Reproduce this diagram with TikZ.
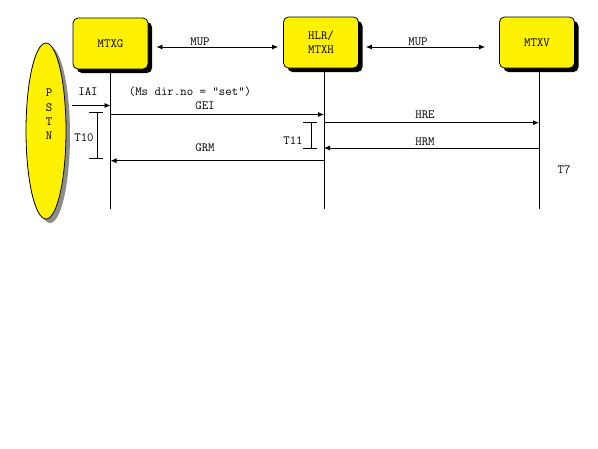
\documentclass[tikz,border=0pt]{standalone}
\usepackage{fontspec}
\usetikzlibrary{positioning,shadows,shapes.geometric,arrows.meta}

\begin{document}
\begin{tikzpicture}[
  x=1pt, y=-1pt,
  >={Latex[length=6pt,width=5pt]},
  line width=0.8pt,
  every node/.style={font=\ttfamily\fontsize{12.5}{14.3}\selectfont},
  ent/.style={
      draw,
      rounded corners=5pt,
      fill=yellow,
      minimum width=75pt,
      minimum height=51pt,
      align=center,
      drop shadow={shadow xshift=4pt, shadow yshift=-4pt, fill=black, opacity=1}
  },
  net/.style={
      draw,
      ellipse,
      fill=yellow,
      minimum width=40pt,
      minimum height=176pt,
      drop shadow={shadow xshift=4pt, shadow yshift=-4pt, fill=black!45, opacity=1}
  },
  msg/.style={->},
  tmr/.style={-}
]

\useasboundingbox (0,0) rectangle (598,448);

\node[ent] (mtxg) at (110.5,43.5) {MTXG};
\node[ent] (hlr) at (321,42.5) {HLR/\\MTXH};
\node[ent] (mtxv) at (537,42.5) {MTXV};

\node[net] (pstn) at (46,131) {};
\node[align=center] at (49,114.5) {P\\S\\T\\N};

% lifelines
\coordinate (gl) at (110.5,209);
\coordinate (hl) at (324,209);
\coordinate (vl) at (539,209);
\draw (mtxg.south -| gl) -- (gl);
\draw (hlr.south -| hl) -- (hl);
\draw (mtxv.south -| vl) -- (vl);

% MUP links
\coordinate (m1) at ([xshift=8pt,yshift=-3.5pt]mtxg.east);
\coordinate (m2) at ([xshift=-5pt,yshift=-4.5pt]hlr.west);
\coordinate (m3) at ([xshift=7pt,yshift=-4.5pt]hlr.east);
\coordinate (m4) at ([xshift=-14pt,yshift=-4.5pt]mtxv.west);
\draw[<->] (m1) -- (m2);
\node at (200,42) {MUP};
\draw[<->] (m3) -- (m4);
\node at (418,42) {MUP};

% message levels
\coordinate (yIAI) at (0,105.5);
\coordinate (yGEI) at (0,114.5);
\coordinate (yHRE) at (0,122.7);
\coordinate (yHRM) at (0,148);
\coordinate (yGRM) at (0,160.7);

\draw[msg] ([xshift=6pt]pstn.east |- yIAI) -- (gl |- yIAI);
\node at (88,92) {IAI};
\node at (190,92) {(Ms dir.no = “set”)};

\draw[msg] (gl |- yGEI) -- (hl |- yGEI);
\node at (205,106) {GEI};

\draw[msg] (hl |- yHRE) -- (vl |- yHRE);
\node at (425,115) {HRE};

\draw[msg] (vl |- yHRM) -- (hl |- yHRM);
\node at (425,142) {HRM};

\draw[msg] (hl |- yGRM) -- (gl |- yGRM);
\node at (205,148) {GRM};

% timers
\coordinate (t10a) at (97,112.7);
\coordinate (t10b) at (97,158);
\draw[tmr] (t10a) -- (t10b);
\draw[tmr] ([xshift=-8pt]t10a) -- ([xshift=6pt]t10a);
\draw[tmr] ([xshift=-8pt]t10b) -- ([xshift=6pt]t10b);
\node at (84,138) {T10};

\coordinate (t11a) at (311,122.7);
\coordinate (t11b) at (311,148);
\draw[tmr] (t11a) -- (t11b);
\draw[tmr] ([xshift=-8pt]t11a) -- ([xshift=6pt]t11a);
\draw[tmr] ([xshift=-8pt]t11b) -- ([xshift=6pt]t11b);
\node at (293,141) {T11};

\node at (564,170) {T7};

\end{tikzpicture}
\end{document}
